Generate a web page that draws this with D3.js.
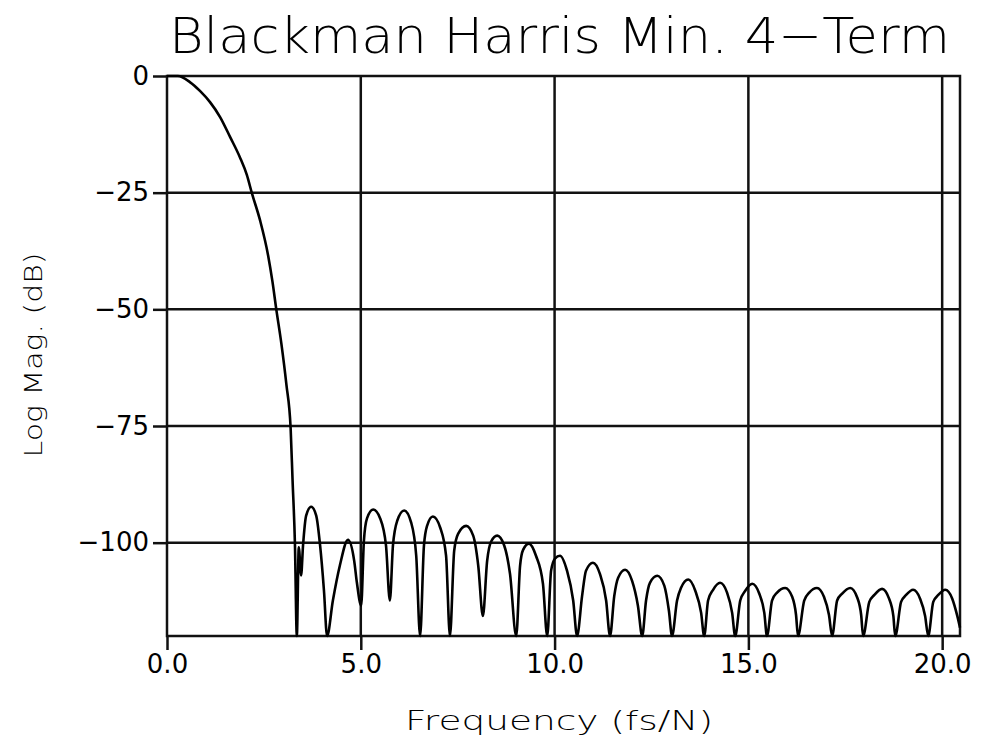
<!DOCTYPE html>
<html>
<head>
<meta charset="utf-8">
<script src="https://cdn.jsdelivr.net/npm/d3@7"></script>
<style>
  body { margin: 0; background: #fff; }
  text { font-family: "DejaVu Sans", sans-serif; fill: #000; }
</style>
</head>
<body>
<script>
//Frequency (fs/N) and log magnitude (dB)
var freq = [
    0, 0.28, 0.59, 0.85, 1.11, 1.37, 1.63, 1.88, 2.06, 2.19, 2.40, 2.61, 2.72, 2.82, 2.95, 3.08, 3.19, 3.24, 3.30, 3.35,
    3.40, 3.46,
    3.51, 3.59, 3.72, 3.85, 3.95, 4.05, 4.13,
    4.28, 4.46, 4.67, 4.83, 4.90, 5.01,
    5.08, 5.16, 5.32, 5.50, 5.65, 5.75,
    5.83, 5.94, 6.12, 6.30, 6.43, 6.53,
    6.63, 6.71, 6.86, 7.05, 7.20, 7.30,
    7.41, 7.51, 7.72, 7.90, 8.03, 8.15,
    8.26, 8.36, 8.52, 8.70, 8.85, 9.01,
    9.11, 9.19, 9.34, 9.52, 9.70, 9.81,
    9.91, 10.01, 10.14, 10.32, 10.48, 10.58,
    10.71, 10.81, 10.99, 11.17, 11.33, 11.43,
    11.54, 11.64, 11.82, 12.00, 12.15, 12.26,
    12.36, 12.46, 12.65, 12.83, 12.95, 13.03,
    13.16, 13.26, 13.45, 13.63, 13.78, 13.86,
    13.96, 14.09, 14.27, 14.45, 14.58, 14.66,
    14.79, 14.92, 15.10, 15.28, 15.41, 15.48,
    15.61, 15.74, 15.95, 16.13, 16.23, 16.28,
    16.44, 16.57, 16.77, 16.95, 17.08, 17.16,
    17.29, 17.42, 17.63, 17.81, 17.91, 17.96,
    18.12, 18.25, 18.45, 18.63, 18.74, 18.79,
    18.94, 19.07, 19.25, 19.43, 19.56, 19.64,
    19.77, 19.90, 20.08, 20.26, 20.39, 20.46
];

var magDb = [
    0, 0, -1.3, -3.2, -5.6, -8.8, -13.1, -17.4, -21.2, -25.1, -30.9, -38.5, -44.0, -50.0, -57.3, -66.1, -75.5, -86.7, -100.0, -120,
    -101.0, -107.0,
    -100.6, -94.2, -92.3, -94.2, -100.6, -110.3, -120,
    -112.4, -104.9, -99.4, -103.9, -108.6, -113.5,
    -99.6, -94.8, -92.9, -94.8, -100.6, -112.4,
    -100.6, -95.3, -93.1, -95.7, -102.8, -120,
    -100.6, -96.4, -94.4, -96.8, -102.8, -120,
    -101.7, -98.1, -96.4, -98.5, -104.9, -115.7,
    -103.9, -99.8, -98.5, -100.6, -106.7, -120,
    -104.9, -101.5, -100.2, -102.8, -108.8, -120,
    -106.0, -103.4, -102.8, -106.0, -112.4, -120,
    -111.4, -106.0, -104.3, -106.7, -112.4, -120,
    -111.4, -107.5, -105.8, -108.2, -113.5, -120,
    -112.4, -108.6, -107.1, -109.2, -114.6, -120,
    -112.4, -109.7, -107.9, -110.3, -115.0, -120,
    -112.4, -110.1, -108.6, -110.7, -115.0, -120,
    -112.4, -110.3, -108.8, -110.9, -115.0, -120,
    -112.4, -110.7, -109.7, -111.6, -115.5, -120,
    -112.4, -110.7, -109.7, -111.6, -115.5, -120,
    -112.4, -110.9, -109.7, -111.8, -115.5, -120,
    -112.7, -111.2, -109.9, -112.0, -115.7, -120,
    -112.7, -111.2, -110.1, -112.0, -115.7, -120,
    -112.7, -111.2, -110.1, -112.0, -115.7, -118.2
];

var xTicks = [0, 5, 10, 15, 20];
var yTicks = [0, -25, -50, -75, -100];

window.onload = function(){

    var w = 981, h = 744;
    var left = 167, right = 960, top = 76, bottom = 636;

    var svg = d3.select("body")
        .append("svg")
        .attr("width", w)
        .attr("height", h)
        .style("background-color", "#fff");

    var x = d3.scaleLinear()
        .domain([0, 20.46])
        .range([left, right]);

    var y = d3.scaleLinear()
        .domain([-120, 0])
        .range([bottom, top]);

    //grid lines
    svg.selectAll(".vgrid")
        .data(xTicks.slice(1))
        .enter()
        .append("line")
        .attr("x1", function(d){ return x(d); })
        .attr("x2", function(d){ return x(d); })
        .attr("y1", top)
        .attr("y2", bottom)
        .style("stroke", "#111")
        .style("stroke-width", 2.5);

    svg.selectAll(".hgrid")
        .data(yTicks.slice(1))
        .enter()
        .append("line")
        .attr("x1", left)
        .attr("x2", right)
        .attr("y1", function(d){ return y(d); })
        .attr("y2", function(d){ return y(d); })
        .style("stroke", "#111")
        .style("stroke-width", 2.5);

    //frame
    svg.append("rect")
        .attr("x", left)
        .attr("y", top)
        .attr("width", right - left)
        .attr("height", bottom - top)
        .style("fill", "none")
        .style("stroke", "#111")
        .style("stroke-width", 2.5);

    //axes
    var xAxis = d3.axisBottom(x)
        .tickValues(xTicks)
        .tickSize(14)
        .tickPadding(5)
        .tickFormat(d3.format(".1f"));

    var yAxis = d3.axisLeft(y)
        .tickValues(yTicks)
        .tickSize(14)
        .tickPadding(4)
        .tickFormat(function(d){ return d === 0 ? "0" : "\u2212" + Math.abs(d); });

    var gx = svg.append("g")
        .attr("transform", "translate(0," + bottom + ")")
        .call(xAxis);

    var gy = svg.append("g")
        .attr("transform", "translate(" + left + ",0)")
        .call(yAxis);

    [gx, gy].forEach(function(g){
        g.select(".domain").remove();
        g.selectAll(".tick line")
            .style("stroke", "#111")
            .style("stroke-width", 2.5);
        g.selectAll(".tick text")
            .style("font-size", "26px")
            .style("font-family", "DejaVu Sans, sans-serif")
            .style("fill", "#000");
    });

    //spectrum curve
    var pts = freq.map(function(f, i){ return [f, magDb[i]]; });

    var line = d3.line()
        .x(function(d){ return x(d[0]); })
        .y(function(d){ return y(d[1]); })
        .curve(d3.curveMonotoneX);

    svg.append("path")
        .datum(pts)
        .attr("d", line)
        .style("fill", "none")
        .style("stroke", "#000")
        .style("stroke-width", 2.6)
        .style("stroke-linejoin", "round");

    //title
    svg.append("text")
        .attr("x", 169)
        .attr("y", 53)
        .attr("textLength", 781)
        .attr("lengthAdjust", "spacingAndGlyphs")
        .style("font-size", "50px")
        .style("font-weight", "200")
        .text("Blackman Harris Min. 4\u2212Term");

    //axis titles
    svg.append("text")
        .attr("x", 559)
        .attr("y", 730)
        .attr("text-anchor", "middle")
        .attr("textLength", 308)
        .attr("lengthAdjust", "spacingAndGlyphs")
        .style("font-size", "27px")
        .style("font-weight", "300")
        .text("Frequency (fs/N)");

    svg.append("text")
        .attr("transform", "translate(42,355) rotate(-90)")
        .attr("text-anchor", "middle")
        .attr("textLength", 205)
        .attr("lengthAdjust", "spacingAndGlyphs")
        .style("font-size", "25px")
        .style("font-weight", "300")
        .text("Log Mag. (dB)");
};
</script>
</body>
</html>
